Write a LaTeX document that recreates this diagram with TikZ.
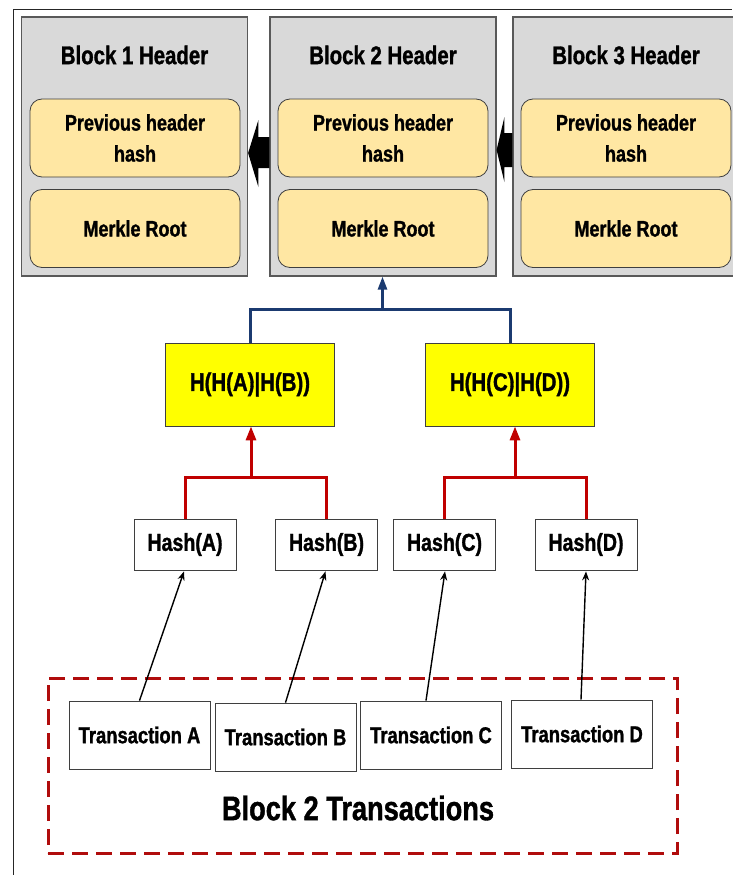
\documentclass[tikz,border=0pt]{standalone}
\usepackage{fontspec}
\setmainfont{Liberation Sans}[FakeStretch=0.8,BoldFeatures={FakeBold=1.2}]
\usetikzlibrary{calc,arrows.meta}

\definecolor{hdrgray}{HTML}{D9D9D9}
\definecolor{hdredge}{HTML}{595959}
\definecolor{fieldfill}{HTML}{FFE7A3}
\definecolor{fieldedge}{HTML}{3F3F3F}
\definecolor{hashyellow}{HTML}{FFFF00}
\definecolor{treenavy}{HTML}{1B3A70}
\definecolor{treered}{HTML}{C00000}
\definecolor{framered}{HTML}{B00C0C}

\newcommand{\fsz}[2]{\fontsize{#1}{#2}\selectfont\bfseries}

\begin{document}
\begin{tikzpicture}[x=1pt,y=-1pt,
  header/.style={draw=hdredge,line width=1.2pt,fill=hdrgray,minimum width=226pt,minimum height=259pt,inner sep=0pt},
  headtitle/.style={font=\fsz{25.5}{30},inner sep=0pt},
  field/.style={draw=fieldedge,line width=0.8pt,fill=fieldfill,rounded corners=12pt,minimum width=210pt,minimum height=78pt,inner sep=0pt,align=center,font=\fsz{22.5}{31}},
  pairhash/.style={draw=fieldedge,line width=0.8pt,fill=hashyellow,minimum width=169pt,minimum height=83pt,inner sep=0pt,font=\fsz{25.5}{30}},
  leafhash/.style={draw=fieldedge,line width=0.8pt,fill=white,minimum width=102pt,minimum height=51pt,inner sep=0pt,font=\fsz{24.5}{28}},
  txbox/.style={draw=fieldedge,line width=0.8pt,fill=white,minimum width=141pt,minimum height=68pt,inner sep=0pt,font=\fsz{23}{27}},
  navyline/.style={draw=treenavy,line width=3pt},
  redline/.style={draw=treered,line width=3pt},
  txarrow/.style={draw=black,line width=1.4pt,-{Stealth[length=9pt,width=7pt]}},
]
\useasboundingbox (0,0) rectangle (732,875);
\fill[white] (0,0) rectangle (732,875);

% outer frame (left and top edges)
\draw[line width=1pt,black!85] (13,875) -- (13,10) -- (732,10);

% block headers
\node[header] (b1) at (134.5,146.5) {};
\node[header] (b2) at (383,146.5) {};
\node[header] (b3) at (626,146.5) {};

\node[headtitle] (t1) at (134.5,55) {Block 1 Header};
\node[headtitle] (t2) at (383,55) {Block 2 Header};
\node[headtitle] (t3) at (626,55) {Block 3 Header};

\node[field] (p1) at (135,138) {Previous header\\hash};
\node[field] (p2) at (383,138) {Previous header\\hash};
\node[field] (p3) at (626,138) {Previous header\\hash};

\node[field] (m1) at (135,228.5) {Merkle Root};
\node[field] (m2) at (383,228.5) {Merkle Root};
\node[field] (m3) at (626,228.5) {Merkle Root};

% heavy arrows linking each header to the previous one
\fill[black] ($(b2.west)+(0,-9.5)$) -- ($(b2.west)+(-11,-9.5)$) -- ($(b2.west)+(-11,-26.5)$)
  -- ($(b1.east)+(0,6.5)$) -- ($(b2.west)+(-11,40.5)$) -- ($(b2.west)+(-11,21.5)$)
  -- ($(b2.west)+(0,21.5)$) -- cycle;
\fill[black] ($(b3.west)+(0,-13.5)$) -- ($(b3.west)+(-8,-13.5)$) -- ($(b3.west)+(-8,-29.5)$)
  -- ($(b2.east)+(0,3.5)$) -- ($(b3.west)+(-8,35.5)$) -- ($(b3.west)+(-8,20.5)$)
  -- ($(b3.west)+(0,20.5)$) -- cycle;

% Merkle tree
\node[pairhash] (hab) at (250,384.5) {H(H(A)|H(B))};
\node[pairhash] (hcd) at (510,384.5) {H(H(C)|H(D))};

\node[leafhash] (ha) at (185,544.5) {Hash(A)};
\node[leafhash] (hb) at (326.5,544.5) {Hash(B)};
\node[leafhash] (hc) at (444.5,544.5) {Hash(C)};
\node[leafhash] (hd) at (586,544.5) {Hash(D)};

\coordinate (bj) at ($(b2.south)+(-0.5,33)$);
\draw[navyline] (hab.north) |- (bj) -| (hcd.north);
\draw[navyline,line width=2.6pt,-{Triangle[length=13pt,width=9pt]}] (bj) -- (b2.south -| bj);

\coordinate (rj1) at (251,477);
\coordinate (rj2) at (515,477);
\draw[redline] (ha.north) |- (rj1) -| (hb.north);
\draw[redline] (hc.north) |- (rj2) -| (hd.north);
\draw[redline,-{Triangle[length=14pt,width=10pt]}] (rj1) -- (rj1 |- hab.south);
\draw[redline,-{Triangle[length=14pt,width=10pt]}] (rj2) -- (rj2 |- hcd.south);

% transactions of block 2
\node[draw=framered,line width=3pt,dash pattern=on 16pt off 8pt,minimum width=629pt,minimum height=175pt,inner sep=0pt] (frame) at (362.5,765.5) {};
\node[font=\fsz{34}{38},inner sep=0pt] (ftitle) at (358,808) {Block 2 Transactions};

\node[txbox] (ta) at (139.5,735) {Transaction A};
\node[txbox] (tb) at (285.5,737) {Transaction B};
\node[txbox] (tc) at (431,735) {Transaction C};
\node[txbox] (td) at (582,734) {Transaction D};

\draw[txarrow] (ta.north) -- ($(ha.south)+(-1,1)$);
\draw[txarrow] (tb.north) -- ($(hb.south)+(-1,1)$);
\draw[txarrow] ($(tc.north)+(-5,0)$) -- ($(hc.south)+(0.5,1)$);
\draw[txarrow] ($(td.north)+(-1,0)$) -- ($(hd.south)+(0,1)$);
\end{tikzpicture}
\end{document}
